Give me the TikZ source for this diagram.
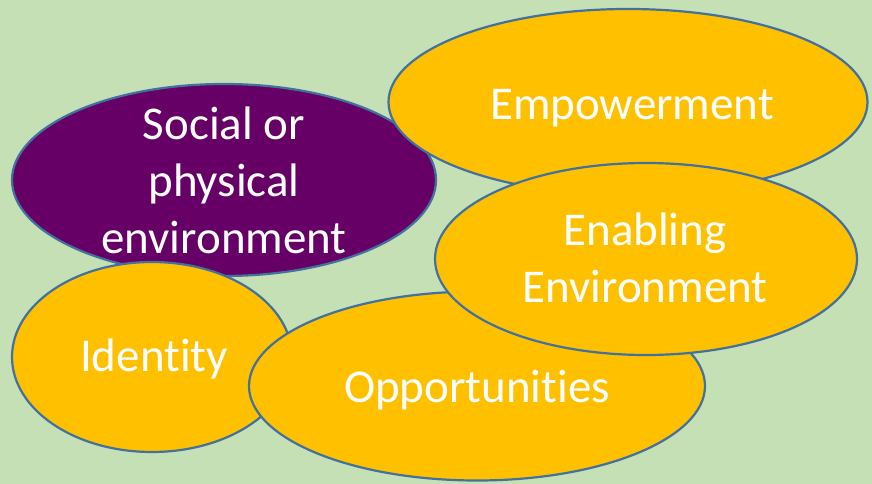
\documentclass[tikz,border=0pt]{standalone}
\usepackage{fontspec}
\setmainfont{Carlito}[Ligatures={NoCommon}]
\usepackage{tikz}
\usetikzlibrary{shapes.geometric}
\definecolor{meadow}{HTML}{C5E0B4}
\definecolor{gold}{HTML}{FFC000}
\definecolor{plum}{HTML}{660066}
\definecolor{rim}{HTML}{41719C}

\begin{document}
\begin{tikzpicture}[x=1pt,y=-1pt,
  blob/.style={ellipse, draw=rim, line width=2.2pt, fill=gold, inner sep=0pt},
  word/.style={text=white, inner sep=0pt, align=center, font=\fontsize{47}{57}\selectfont}]
\fill[meadow] (0,0) rectangle (872,484);
\useasboundingbox (0,0) rectangle (872,484);
% back to front
\node[blob, fill=plum, minimum width=424pt, minimum height=192pt] (social) at (224,180) {};
\node[word] (socialtext) at (224,180) {Social or\\physical\\environment};
\node[blob, minimum width=479pt, minimum height=186pt] (empower) at (628,102) {};
\node[word, anchor=base] (empowertext) at (632,120) {Empowerment};
\node[blob, minimum width=280pt, minimum height=190pt] (identity) at (152,357) {};
\node[word, anchor=base] (identitytext) at (154,371) {Identity};
\node[blob, minimum width=456pt, minimum height=189pt] (opport) at (477,386) {};
\node[word, anchor=base] (opporttext) at (477,402) {Opportunities};
\node[blob, minimum width=422pt, minimum height=192pt] (enabling) at (646,259) {};
\node[word] (enablingtext) at (645,258) {Enabling\\Environment};
\end{tikzpicture}
\end{document}
